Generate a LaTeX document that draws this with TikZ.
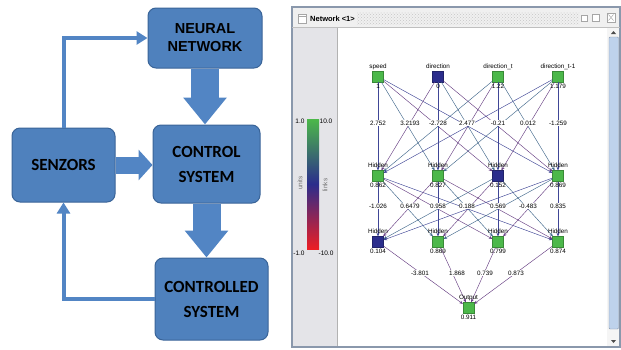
\documentclass[tikz,border=0pt]{standalone}
\usepackage{fontspec}
\setmainfont{Carlito}
\newfontfamily\arialfont{Liberation Sans}
\usetikzlibrary{arrows.meta}
\usetikzlibrary{positioning}
\usetikzlibrary{patterns}
\definecolor{boxblue}{RGB}{79,129,189}
\definecolor{boxline}{RGB}{58,100,152}
\definecolor{arrowblue}{RGB}{82,133,196}
\definecolor{unitgreen}{RGB}{76,184,74}
\definecolor{unitblue}{RGB}{43,45,140}
\definecolor{link0}{RGB}{64,70,150}
\definecolor{link1}{RGB}{104,64,132}
\definecolor{link2}{RGB}{66,104,140}
\definecolor{framecol}{RGB}{138,152,172}
\definecolor{panelgray}{RGB}{228,228,232}
\definecolor{scrollblue}{RGB}{190,210,236}
\definecolor{barred}{RGB}{236,30,36}

\tikzset{
  block/.style={draw=boxline, line width=1pt, fill=boxblue, rounded corners=8pt,
    align=center, inner sep=0pt, font=\fontsize{17}{25}\selectfont\bfseries},
  bigarrow/.style={draw=arrowblue, line width=28pt, -{Triangle[width=42pt,length=27pt]}},
  sidearrow/.style={draw=arrowblue, line width=17pt, -{Triangle[width=30pt,length=14pt]}},
  thinarrow/.style={draw=arrowblue, line width=4pt, -{Triangle[width=13pt,length=11pt]}},
  unit/.style={rectangle, minimum size=11pt, inner sep=0pt, line width=0.3pt},
  gunit/.style={unit, fill=unitgreen, draw=unitgreen!75!black},
  bunit/.style={unit, fill=unitblue, draw=unitblue!75!black},
  unitlabel/.style={inner sep=0.5pt, text height=4.8pt, text depth=1.4pt,
    font=\arialfont\fontsize{6.3}{7}\selectfont},
  weight/.style={fill=white, inner sep=0.6pt, font=\arialfont\fontsize{6.3}{7}\selectfont},
  link/.style={line width=0.45pt, -{Stealth[length=3.5pt,width=3pt]}},
  small/.style={font=\arialfont\fontsize{6.5}{7}\selectfont, inner sep=0pt}
}

\begin{document}
\begin{tikzpicture}[x=1pt, y=-1pt]
  \useasboundingbox (0,0) rectangle (621,349);

  % control loop
  \node[block, minimum width=114pt, minimum height=60pt,
        font=\arialfont\bfseries\fontsize{14.5}{18}\selectfont] (nn) at (205,38) {NEURAL\\NETWORK};
  \node[block, minimum width=107pt, minimum height=78pt] (cs) at (206.5,164) {CONTROL\\SYSTEM};
  \node[block, minimum width=103pt, minimum height=74pt] (sz) at (63.5,165) {SENZORS};
  \node[block, minimum width=113pt, minimum height=82pt] (ctrld) at (211.5,299) {CONTROLLED\\SYSTEM};

  \draw[bigarrow] (nn.south) -- (nn.south |- cs.north);
  \draw[bigarrow] (cs.south) -- (cs.south |- ctrld.north);
  \draw[sidearrow] (sz.east) -- (sz.east -| cs.west);
  \draw[thinarrow] (sz.north) |- (nn.west);
  \draw[thinarrow] (ctrld.west) -| (sz.south);

  % window
  \fill[white] (292,7) rectangle (620,347);
  \fill[gray!12] (292,7) rectangle (620,27);
  \fill[pattern=crosshatch dots, pattern color=gray!45] (357,12) rectangle (579,24);
  \fill[panelgray] (293,27) rectangle (337,346);
  \draw[gray!60] (337,27) -- (337,346);
  \draw[framecol, line width=1.5pt] (292,7) rectangle (620,347);
  \draw[gray!50] (292,27) -- (620,27);
  \draw[gray!70, fill=white] (298,14) rectangle (306,23);
  \draw[gray!70] (298,16) -- (306,16);
  \node[small, anchor=west, font=\arialfont\bfseries\fontsize{7.5}{8}\selectfont] (title) at (310,19) {Network <1>};
  \draw[gray!70, fill=white] (581,15) rectangle (587,21);
  \draw[gray!70, fill=white] (592,14) rectangle (599,21);
  \draw[gray!70, fill=white] (607,13) rectangle (615,22);
  \draw[gray!80] (608.5,14.5) -- (613.5,20.5) (613.5,14.5) -- (608.5,20.5);

  % scroll bar
  \fill[gray!8] (607,28) rectangle (619,346);
  \draw[framecol, fill=scrollblue, rounded corners=1pt] (609,37) rectangle (618.5,329);
  \fill[black!70] (611,34) -- (616,34) -- (613.5,31) -- cycle;
  \fill[black!70] (611,340) -- (616,340) -- (613.5,343) -- cycle;

  % colour bar
  \shade[top color=unitgreen, bottom color=barred, middle color=unitblue] (307,119) rectangle (319,249);
  \node[small] (ctop) at (300,121) {1.0};
  \node[small] (ltop) at (326,121) {10.0};
  \node[small] (cbot) at (299,253) {-1.0};
  \node[small] (lbot) at (326,253) {-10.0};
  \node[small, rotate=90, text=gray!90!black] (unitsname) at (300,183) {units};
  \node[small, rotate=90, text=gray!90!black] (linksname) at (325,185) {links};

  % network units
  \node[gunit] (in1) at (378,76.5) {};
  \node[bunit] (in2) at (438,76.5) {};
  \node[gunit] (in3) at (498,76.5) {};
  \node[gunit] (in4) at (558,76.5) {};
  \node[gunit] (ha1) at (378,176) {};
  \node[gunit] (ha2) at (438,176) {};
  \node[bunit] (ha3) at (498,176) {};
  \node[gunit] (ha4) at (558,176) {};
  \node[bunit] (hb1) at (378,242) {};
  \node[gunit] (hb2) at (438,242) {};
  \node[gunit] (hb3) at (498,242) {};
  \node[gunit] (hb4) at (558,242) {};
  \node[gunit] (out) at (468.5,308) {};

  % links
  \foreach \i in {1,...,4}
    \foreach \j in {1,...,4} {
      \pgfmathtruncatemacro\k{mod(\i+2*\j,3)}
      \draw[link, draw=link\k] (in\i) -- (ha\j);
      \draw[link, draw=link\k] (ha\i) -- (hb\j);
    }
  \foreach \i in {1,...,4}
    \draw[link, draw=link1] (hb\i) -- (out);

  % unit names and values
  \foreach \n/\name/\val in {in1/speed/1, in2/direction/0, in3/direction\_t/1.22, in4/direction\_t-1/1.179,
      ha1/Hidden/0.862, ha2/Hidden/0.827, ha3/Hidden/0.152, ha4/Hidden/0.869,
      hb1/Hidden/0.104, hb2/Hidden/0.869, hb3/Hidden/0.799, hb4/Hidden/0.874, out/Output/0.911} {
    \node[unitlabel, above=0.5pt of \n] {\name};
    \node[unitlabel, below=0.5pt of \n] {\val};
  }

  % weights
  \foreach \x/\w in {378/2.752, 410/3.2193, 438/-2.728, 467/2.477, 498/-0.21, 528/0.012, 558/-1.259}
    \node[weight] at (\x,123) {\w};
  \foreach \x/\w in {378/-1.026, 410/0.6479, 438/0.958, 467/0.188, 498/0.569, 528/-0.483, 558/0.835}
    \node[weight] at (\x,206) {\w};
  \foreach \x/\w in {420/-3.801, 457/1.868, 485/0.739, 516/0.873}
    \node[weight] at (\x,273) {\w};
\end{tikzpicture}
\end{document}
